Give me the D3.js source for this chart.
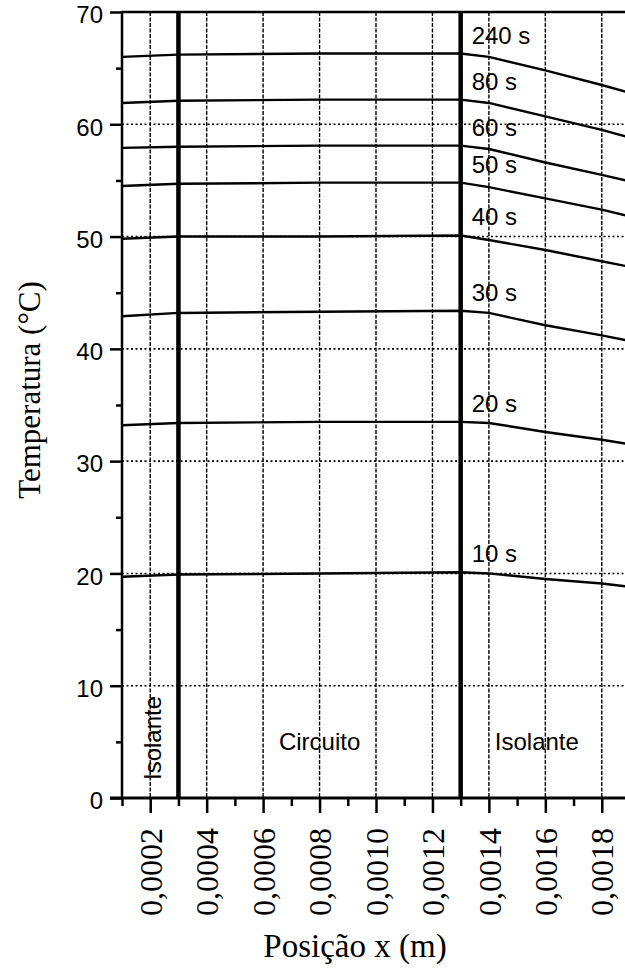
<!DOCTYPE html>
<html>
<head>
<meta charset="utf-8">
<script src="https://cdn.jsdelivr.net/npm/d3@7"></script>
<style>
  body { margin: 0; background: #fff; }
  svg { display: block; }
</style>
</head>
<body>
<div id="chart"></div>
<script>
// positions along x (m)
var xs = [0.0001, 0.0003, 0.0008, 0.0013, 0.0014, 0.0016, 0.0018, 0.0019];

var t240 = [66.0, 66.2, 66.3, 66.3, 66.0, 64.8, 63.5, 62.8];
var t80  = [61.9, 62.1, 62.2, 62.2, 61.9, 60.7, 59.5, 58.8];
var t60  = [57.9, 58.0, 58.1, 58.1, 57.8, 56.6, 55.5, 54.9];
var t50  = [54.5, 54.7, 54.8, 54.8, 54.4, 53.4, 52.4, 51.8];
var t40  = [49.8, 50.0, 50.0, 50.1, 49.7, 48.8, 47.8, 47.3];
var t30  = [42.9, 43.2, 43.3, 43.4, 43.2, 42.1, 41.2, 40.7];
var t20  = [33.2, 33.4, 33.5, 33.5, 33.4, 32.6, 31.9, 31.5];
var t10  = [19.7, 19.9, 20.0, 20.1, 20.0, 19.5, 19.1, 18.8];

var seriesNames = ["240 s", "80 s", "60 s", "50 s", "40 s", "30 s", "20 s", "10 s"];
var seriesValues = [t240, t80, t60, t50, t40, t30, t20, t10];

var xTicks = [0.0002, 0.0004, 0.0006, 0.0008, 0.0010, 0.0012, 0.0014, 0.0016, 0.0018];
var xTickLabels = ["0,0002", "0,0004", "0,0006", "0,0008", "0,0010", "0,0012", "0,0014", "0,0016", "0,0018"];
var xMinor = [0.0001, 0.0003, 0.0005, 0.0007, 0.0009, 0.0011, 0.0013, 0.0015, 0.0017];
var yTicks = [0, 10, 20, 30, 40, 50, 60, 70];
var yMinor = [5, 15, 25, 35, 45, 55, 65];
var yGrid = [10, 20, 30, 40, 50, 60];
var boundaries = [0.0003, 0.0013];
var regions = [
  {name: "Circuito", x: 0.0008},
  {name: "Isolante", x: 0.00157}
];

var W = 625, H = 976;
var mLeft = 122, mTop = 12, mBottom = 798;

var x = d3.scaleLinear().domain([0.0001, 0.0019]).range([mLeft, 630]);
var y = d3.scaleLinear().domain([0, 70]).range([mBottom, mTop]);

var svg = d3.select("#chart").append("svg")
  .attr("width", W)
  .attr("height", H);

// grid
svg.selectAll(".hgrid").data(yGrid).enter().append("line")
  .attr("x1", mLeft).attr("x2", 630)
  .attr("y1", d => y(d)).attr("y2", d => y(d))
  .attr("stroke", "#000").attr("stroke-width", 1.6)
  .attr("stroke-dasharray", "2,2.5");

svg.selectAll(".vgrid").data(xTicks).enter().append("line")
  .attr("x1", d => x(d)).attr("x2", d => x(d))
  .attr("y1", mTop).attr("y2", mBottom)
  .attr("stroke", "#000").attr("stroke-width", 1.4)
  .attr("stroke-dasharray", "4,1.5");

// curves
var line = d3.line()
  .x((d, i) => x(xs[i]))
  .y(d => y(d));

svg.selectAll(".curve").data(seriesValues).enter().append("path")
  .attr("d", line)
  .attr("fill", "none")
  .attr("stroke", "#000")
  .attr("stroke-width", 2.4)
  .attr("stroke-linejoin", "round");

// material boundaries
svg.selectAll(".bound").data(boundaries).enter().append("line")
  .attr("x1", d => x(d)).attr("x2", d => x(d))
  .attr("y1", mTop).attr("y2", mBottom)
  .attr("stroke", "#000").attr("stroke-width", 4.5);

// axes
var yAxis = d3.axisLeft(y).tickValues(yTicks).tickSize(12).tickPadding(7);
var gy = svg.append("g").attr("transform", "translate(" + mLeft + ",0)").call(yAxis);
gy.select(".domain").remove();
gy.selectAll("line").attr("stroke-width", 2.5);
gy.selectAll("text")
  .attr("font-family", "'Liberation Sans', Arial, sans-serif")
  .attr("font-size", 24)
  .attr("dy", "0.45em")
  .attr("fill", "#000");

var gyMinor = svg.append("g").attr("transform", "translate(" + mLeft + ",0)")
  .call(d3.axisLeft(y).tickValues(yMinor).tickSize(6).tickFormat(""));
gyMinor.select(".domain").remove();
gyMinor.selectAll("line").attr("stroke-width", 2.5);

var xAxis = d3.axisBottom(x).tickValues(xTicks).tickSize(15)
  .tickFormat((d, i) => xTickLabels[i]);
var gx = svg.append("g").attr("transform", "translate(0," + mBottom + ")").call(xAxis);
gx.select(".domain").remove();
gx.selectAll("line").attr("stroke-width", 2.5);
gx.selectAll("text")
  .attr("font-family", "'Liberation Serif', 'Times New Roman', serif")
  .attr("font-size", 32)
  .attr("fill", "#000")
  .attr("text-anchor", "end")
  .attr("transform", "rotate(-90)")
  .attr("x", -30)
  .attr("y", 0)
  .attr("dy", "0.35em");

var gxMinor = svg.append("g").attr("transform", "translate(0," + mBottom + ")")
  .call(d3.axisBottom(x).tickValues(xMinor).tickSize(8).tickFormat(""));
gxMinor.select(".domain").remove();
gxMinor.selectAll("line").attr("stroke-width", 2.5);

// frame
svg.append("line").attr("x1", mLeft).attr("x2", mLeft).attr("y1", mTop - 1).attr("y2", mBottom + 1)
  .attr("stroke", "#000").attr("stroke-width", 2.5);
svg.append("line").attr("x1", mLeft - 12).attr("x2", W).attr("y1", mBottom).attr("y2", mBottom)
  .attr("stroke", "#000").attr("stroke-width", 3);
svg.append("line").attr("x1", mLeft).attr("x2", W).attr("y1", mTop).attr("y2", mTop)
  .attr("stroke", "#000").attr("stroke-width", 2.5);

// curve labels
svg.selectAll(".clabel").data(seriesValues).enter().append("text")
  .attr("x", x(0.0013) + 11)
  .attr("y", d => y(d[3]) - 10)
  .attr("font-family", "'Liberation Sans', Arial, sans-serif")
  .attr("font-size", 24)
  .attr("fill", "#000")
  .text((d, i) => seriesNames[i]);

// region labels
svg.selectAll(".rlabel").data(regions).enter().append("text")
  .attr("x", d => x(d.x))
  .attr("y", 750)
  .attr("text-anchor", "middle")
  .attr("font-family", "'Liberation Sans', Arial, sans-serif")
  .attr("font-size", 24)
  .attr("fill", "#000")
  .text(d => d.name);

svg.append("text")
  .attr("transform", "translate(161,780) rotate(-90)")
  .attr("font-family", "'Liberation Sans', Arial, sans-serif")
  .attr("font-size", 24)
  .attr("fill", "#000")
  .text("Isolante");

// axis titles
svg.append("text")
  .attr("transform", "translate(40,390) rotate(-90)")
  .attr("text-anchor", "middle")
  .attr("font-family", "'Liberation Serif', 'Times New Roman', serif")
  .attr("font-size", 31)
  .attr("fill", "#000")
  .text("Temperatura (°C)");

svg.append("text")
  .attr("x", 355)
  .attr("y", 957)
  .attr("text-anchor", "middle")
  .attr("font-family", "'Liberation Serif', 'Times New Roman', serif")
  .attr("font-size", 33)
  .attr("fill", "#000")
  .text("Posição x (m)");
</script>
</body>
</html>
